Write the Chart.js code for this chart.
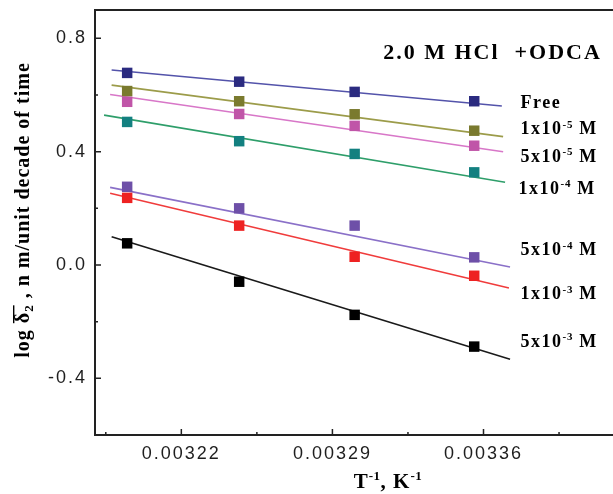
<!DOCTYPE html>
<html>
<head>
<meta charset="utf-8">
<script src="https://cdn.jsdelivr.net/npm/chart.js@4.4.1/dist/chart.umd.min.js"></script>
<style>
  html, body { margin: 0; padding: 0; background: #fff; overflow: hidden; }
  #wrap { width: 613px; height: 494px; }
</style>
</head>
<body>
<div id="wrap"><canvas id="c" width="613" height="494"></canvas></div>
<script>
// Reciprocal temperatures (1/313, 1/308, 1/303, 1/298 K)
const invT = [0.0031949, 0.0032468, 0.0033003, 0.0033557];

// log of mean weight-loss rate for each inhibitor concentration
const free  = [0.678, 0.647, 0.611, 0.578];
const c1e5  = [0.614, 0.578, 0.532, 0.474];
const c5e5  = [0.576, 0.533, 0.491, 0.421];
const c1e4  = [0.505, 0.437, 0.392, 0.327];
const c5e4  = [0.276, 0.200, 0.139, 0.027];
const c1e3  = [0.237, 0.139, 0.029, -0.038];
const c5e3  = [0.0765, -0.059, -0.176, -0.288];

// Linear-fit line end points (x, y) for each series
const fitX0 = [0.0031877, 0.0031877, 0.0031870, 0.0031842, 0.0031870, 0.0031870, 0.0031877];
const fitY0 = [0.688, 0.635, 0.602, 0.529, 0.274, 0.253, 0.100];
const fitX1 = [0.0033685, 0.0033691, 0.0033691, 0.0033700, 0.0033723, 0.0033718, 0.0033723];
const fitY1 = [0.561, 0.453, 0.400, 0.292, -0.007, -0.081, -0.333];

// Series labels: base text, superscript exponent, trailing unit
const labelBase = ['Free', '1x10', '5x10', '1x10', '5x10', '1x10', '5x10'];
const labelExp  = ['', '-5', '-5', '-4', '-4', '-3', '-3'];
const labelUnit = ['', ' M', ' M', ' M', ' M', ' M', ' M'];

// Tick values
const xMajor = [0.00322, 0.00329, 0.00336];
const xMinor = [0.003185, 0.003255, 0.003325, 0.003395];
const yMajor = [-0.4, 0.0, 0.4, 0.8];
const yMinor = [-0.2, 0.2, 0.6];

const allSeries = [free, c1e5, c5e5, c1e4, c5e4, c1e3, c5e3];

// ---- styling ----
const markerColors = ['#2B2B80', '#7A7A2E', '#C055A8', '#138080', '#6E50A8', '#EE2222', '#000000'];
const lineColors   = ['#5353AA', '#9C9C4A', '#D877C8', '#2E9E6A', '#8A70C8', '#F03C3C', '#1a1a1a'];
// label anchor (data units): left x and text baseline y
const labelAnchorX = [0.0033772, 0.0033772, 0.0033772, 0.0033762, 0.0033772, 0.0033772, 0.0033772];
const labelAnchorY = [0.554, 0.462, 0.364, 0.251, 0.035, -0.120, -0.289];

const SERIF = '"Liberation Serif", "Times New Roman", serif';
const SANS = '"Liberation Sans", Arial, sans-serif';
const INK = '#1e1e1e';

const datasets = [];
allSeries.forEach((vals, i) => {
  datasets.push({
    type: 'scatter',
    data: invT.map((x, k) => ({ x: x, y: vals[k] })),
    pointStyle: 'rect',
    pointRadius: 7.4,
    pointHoverRadius: 7.4,
    backgroundColor: markerColors[i],
    borderColor: markerColors[i],
    borderWidth: 0,
    order: 0
  });
});
allSeries.forEach((vals, i) => {
  datasets.push({
    type: 'line',
    data: [{ x: fitX0[i], y: fitY0[i] }, { x: fitX1[i], y: fitY1[i] }],
    borderColor: lineColors[i],
    borderWidth: 1.6,
    pointRadius: 0,
    showLine: true,
    fill: false,
    order: 1
  });
});

// draws text pieces left to right, superscripts raised and smaller
function drawRich(ctx, x, y, parts, size, supSize, spacing) {
  let cx = x;
  for (const p of parts) {
    if (!p.t) continue;
    ctx.font = 'bold ' + (p.sup ? supSize : size) + 'px ' + SERIF;
    ctx.letterSpacing = (p.sup ? spacing * 0.5 : spacing) + 'px';
    const dy = p.sup ? -size * 0.36 : 0;
    ctx.fillText(p.t, cx, y + dy);
    cx += ctx.measureText(p.t).width;
  }
  return cx - x;
}
function measureRich(ctx, parts, size, supSize, spacing) {
  let w = 0;
  for (const p of parts) {
    if (!p.t) continue;
    ctx.font = 'bold ' + (p.sup ? supSize : size) + 'px ' + SERIF;
    ctx.letterSpacing = (p.sup ? spacing * 0.5 : spacing) + 'px';
    w += ctx.measureText(p.t).width;
  }
  return w;
}

const framePlugin = {
  id: 'frame',
  beforeDraw(chart) {
    chart.ctx.letterSpacing = '2px';
  },
  beforeDatasetsDraw(chart) {
    const ctx = chart.ctx;
    ctx.letterSpacing = '0px';
    const a = chart.chartArea;
    const xs = chart.scales.x, ys = chart.scales.y;
    ctx.save();
    ctx.strokeStyle = '#222';
    ctx.lineWidth = 2;
    ctx.beginPath();
    ctx.moveTo(a.left, a.top); ctx.lineTo(a.right + 2, a.top);
    ctx.moveTo(a.left, a.top - 1); ctx.lineTo(a.left, a.bottom + 1);
    ctx.moveTo(a.left - 1, a.bottom); ctx.lineTo(a.right + 2, a.bottom);
    ctx.stroke();
    ctx.lineWidth = 1.5;
    ctx.beginPath();
    xMajor.forEach(v => { const px = xs.getPixelForValue(v); ctx.moveTo(px, a.bottom); ctx.lineTo(px, a.bottom - 6); });
    xMinor.forEach(v => { const px = xs.getPixelForValue(v); ctx.moveTo(px, a.bottom); ctx.lineTo(px, a.bottom - 3); });
    yMajor.forEach(v => { const py = ys.getPixelForValue(v); ctx.moveTo(a.left, py); ctx.lineTo(a.left + 6, py); });
    yMinor.forEach(v => { const py = ys.getPixelForValue(v); ctx.moveTo(a.left, py); ctx.lineTo(a.left + 3, py); });
    ctx.stroke();
    ctx.restore();
  },
  afterDraw(chart) {
    const ctx = chart.ctx;
    const xs = chart.scales.x, ys = chart.scales.y;
    ctx.save();
    ctx.fillStyle = '#000';
    ctx.textAlign = 'left';
    ctx.textBaseline = 'alphabetic';

    // heading
    drawRich(ctx, xs.getPixelForValue(0.0033135), ys.getPixelForValue(0.727),
      [{ t: '2.0 M HCl  +ODCA' }], 22, 13, 2);

    // series labels
    labelBase.forEach((b, i) => {
      drawRich(ctx, xs.getPixelForValue(labelAnchorX[i]), ys.getPixelForValue(labelAnchorY[i]),
        [{ t: b }, { t: labelExp[i], sup: true }, { t: labelUnit[i] }], 18, 11, 1.5);
    });

    // x-axis title
    const xParts = [{ t: 'T' }, { t: '-1', sup: true }, { t: ', K' }, { t: '-1', sup: true }];
    const xw = measureRich(ctx, xParts, 21, 13, 1);
    drawRich(ctx, 388 - xw / 2, 488, xParts, 21, 13, 1);

    // y-axis title (rotated)
    ctx.translate(29, 210);
    ctx.rotate(-Math.PI / 2);
    const size = 20, sub = 13, sp = 1.0;
    const p1 = 'log ', p2 = '\u03B4', p3 = '2', p4 = ' , n m/unit decade of time';
    ctx.letterSpacing = sp + 'px';
    ctx.font = 'bold ' + size + 'px ' + SERIF;
    const w1 = ctx.measureText(p1).width, w2 = ctx.measureText(p2).width, w4 = ctx.measureText(p4).width;
    ctx.font = 'bold ' + sub + 'px ' + SERIF;
    const w3 = ctx.measureText(p3).width;
    let cx = -(w1 + w2 + w3 + w4) / 2;
    ctx.font = 'bold ' + size + 'px ' + SERIF;
    ctx.fillText(p1, cx, 0); cx += w1;
    ctx.fillText(p2, cx, 0);
    // bar over delta and its subscript
    ctx.fillRect(cx, -16, w2 + w3 - 1, 1.4);
    cx += w2;
    ctx.font = 'bold ' + sub + 'px ' + SERIF;
    ctx.fillText(p3, cx, 4); cx += w3;
    ctx.font = 'bold ' + size + 'px ' + SERIF;
    ctx.fillText(p4, cx, 0);
    ctx.restore();
    ctx.letterSpacing = '0px';
  }
};

new Chart(document.getElementById('c'), {
  type: 'scatter',
  data: { datasets: datasets },
  options: {
    responsive: false,
    animation: false,
    events: [],
    layout: { autoPadding: false, padding: { top: 10, right: 0, left: 0, bottom: 0 } },
    plugins: { legend: { display: false }, tooltip: { enabled: false }, title: { display: false } },
    scales: {
      x: {
        type: 'linear',
        min: 0.00318,
        max: 0.00342,
        grid: { display: false, drawTicks: false },
        border: { display: false },
        afterBuildTicks: s => { s.ticks = xMajor.map(v => ({ value: v })); },
        afterFit: s => { s.height = 59; s.paddingLeft = 0; s.paddingRight = 0; },
        ticks: {
          autoSkip: false, maxRotation: 0, padding: 8,
          color: INK, font: { family: SANS, size: 18 },
          callback: v => Number(v).toFixed(5)
        }
      },
      y: {
        type: 'linear',
        min: -0.6,
        max: 0.9,
        grid: { display: false, drawTicks: false },
        border: { display: false },
        afterBuildTicks: s => { s.ticks = yMajor.map(v => ({ value: v })); },
        afterFit: s => { s.width = 95; s.paddingTop = 0; s.paddingBottom = 0; },
        ticks: {
          autoSkip: false, padding: 8,
          color: INK, font: { family: SANS, size: 18 },
          callback: v => Number(v).toFixed(1)
        }
      }
    }
  },
  plugins: [framePlugin]
});
</script>
</body>
</html>
